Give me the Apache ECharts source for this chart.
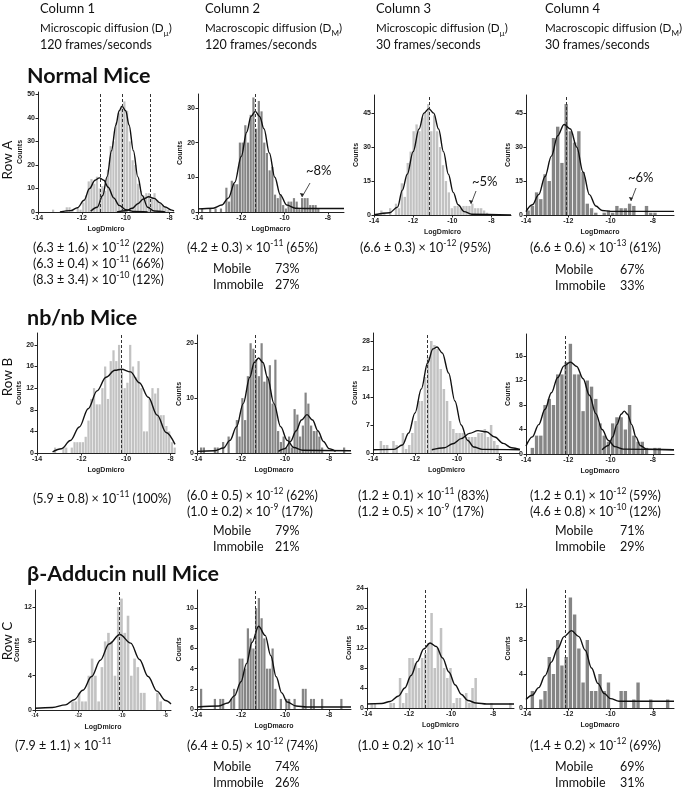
<!DOCTYPE html>
<html><head><meta charset="utf-8">
<script src="https://cdn.jsdelivr.net/npm/echarts@6/dist/echarts.min.js"></script>
<style>html,body{margin:0;padding:0;background:#fff}#c{width:685px;height:790px}</style>
</head><body><div id="c"></div><script>
// ---------- shared tick labels ----------
const xTicks = [-14, -12, -10, -8];

// ---------- Row A : Normal mice ----------
const a1Counts = [0,0,0,0,0,1,0,0,0,0,2,2,1,0,2,1,4,7,13,14,12,15,10,11,9,18,28,30,38,42,45,47,43,30,22,20,12,9,7,8,8,6,8,5,4,3,2,1,0,0];
const a1Fit1 = [[-13,0],[-12.5,0.6],[-12.2,1.8],[-11.9,5],[-11.65,10],[-11.4,13.5],[-11.2,14.5],[-11.0,13.5],[-10.8,10.5],[-10.55,6],[-10.3,2.8],[-10.0,1],[-9.6,0.2],[-9,0]];
const a1Fit2 = [[-11.6,0.3],[-11.3,2],[-11.05,7],[-10.85,15],[-10.65,26],[-10.45,37],[-10.3,43],[-10.17,45],[-10.0,43],[-9.85,37],[-9.65,26],[-9.45,15],[-9.25,7],[-9.0,2],[-8.7,0.4],[-8.2,0]];
const a1Fit3 = [[-10.4,0],[-10.0,0.5],[-9.7,1.6],[-9.45,3.5],[-9.2,5.5],[-8.95,6.5],[-8.7,5.8],[-8.45,4],[-8.2,2.1],[-7.9,0.8],[-7.8,0.5]];
const a1Dashed = [-11.15, -10.17, -8.9];
const a1YTicks = [0,10,20,30,40,50];

const a2Counts = [0,1,0,0,1,0,1,0,1,0,7,3,9,8,8,20,20,25,20,28,33,24,32,29,20,17,12,13,5,4,5,2,1,3,3,4,3,1,4,4,4,2,2,2,1,0,0,0,0,0,0,0,0,0];
const a2Fit1 = [[-14,0.9],[-13.3,1.1],[-12.9,2],[-12.6,4],[-12.3,8.5],[-12.0,16],[-11.75,23],[-11.55,27.5],[-11.35,29],[-11.15,27.5],[-10.95,24],[-10.7,17],[-10.45,10],[-10.2,5],[-9.9,2],[-9.5,1.1],[-9,1],[-7.25,1]];
const a2Dashed = [-11.35];
const a2YTicks = [0,10,20,30];

const a3Counts = [0,0,2,1,0,3,0,5,3,14,8,23,28,37,40,37,43,45,49,37,44,37,30,22,15,10,3,4,4,3,4,4,4,5,3,3,3,2,1,0,0,0,0,0,0,0];
const a3Fit1 = [[-14,0.1],[-13.2,1],[-12.8,3.5],[-12.55,11],[-12.3,18],[-12.0,28],[-11.7,38],[-11.45,45],[-11.2,47],[-10.95,45],[-10.7,38],[-10.45,28],[-10.2,18],[-9.95,10],[-9.7,4.5],[-9.4,1.5],[-9.0,0.3],[-7,0]];
const a3Dashed = [-11.2];
const a3YTicks = [0,15,30,45];

const a4Counts = [2,4,10,7,18,15,34,39,23,49,37,32,37,19,5,3,1,0,1,2,1,4,3,3,5,4,0,0,4,1,1,0,0,0,0];
const a4Fit1 = [[-14,1.5],[-13.7,4.5],[-13.4,9],[-13.1,17],[-12.8,26],[-12.5,35],[-12.2,40],[-11.9,38],[-11.6,30],[-11.3,19],[-11.0,9],[-10.7,4],[-10.4,2],[-10,1.6],[-7,1.6]];
const a4Dashed = [-12.1];
const a4YTicks = [0,15,30,45];

// ---------- Row B : nb/nb mice ----------
const b1Counts = [0,0,0,0,0,0,1,0,0,1,1,0,1,2,2,2,2,3,6,10,12,9,9,12,16,10,17,19,17,20,15,12,13,20,16,14,17,12,4,4,10,12,11,12,7,7,5,4,2,1];
const b1Fit1 = [[-13.3,0.2],[-12.9,0.8],[-12.5,2.3],[-12.1,4.8],[-11.7,8.2],[-11.3,11.5],[-10.9,14],[-10.5,15.3],[-10.2,15.5],[-9.8,15],[-9.4,13],[-9.0,10.3],[-8.6,7],[-8.2,3.8],[-7.8,1.6]];
const b1Dashed = [-10.2];
const b1YTicks = [0,4,8,12,16,20];

const b2Counts = [0,1,1,0,0,0,1,1,0,2,0,3,0,0,6,3,10,6,14,20,19,17,14,20,13,14,16,9,17,4,2,3,1,3,1,8,7,3,5,11,9,5,4,4,3,1,0,0,0,0,0,0,0,1,0,0];
const b2Fit1 = [[-14,0.3],[-13.2,0.4],[-12.8,0.9],[-12.5,2.3],[-12.2,4.8],[-11.9,9],[-11.6,13.8],[-11.4,16.5],[-11.2,17.3],[-11.0,16.5],[-10.8,13.8],[-10.5,9],[-10.2,4.8],[-9.9,2.3],[-9.6,1],[-9.2,0.5],[-7,0.4]];
const b2Fit2 = [[-10.3,0.3],[-10.0,0.8],[-9.75,2.1],[-9.5,4],[-9.25,6],[-9.0,7],[-8.75,6],[-8.5,4],[-8.25,2.1],[-8.0,0.8],[-7.7,0.3]];
const b2Dashed = [-11.33];
const b2YTicks = [0,10,20];

const b3Counts = [0,0,3,2,2,0,3,2,0,5,1,2,5,8,13,13,19,24,28,27,26,21,16,13,8,6,5,5,5,4,4,4,4,5,5,6,4,7,3,2,0,0,0,0,0,0];
const b3Fit1 = [[-14,0.8],[-13,0.9],[-12.6,2],[-12.3,5],[-12.0,10],[-11.7,16],[-11.4,22.5],[-11.15,26],[-10.95,26.5],[-10.7,25],[-10.4,20],[-10.1,13],[-9.8,7],[-9.5,3.2],[-9.2,1.5],[-8.8,0.9],[-7,0.8]];
const b3Fit2 = [[-11.2,0.8],[-10.6,1.3],[-10.2,2.3],[-9.8,3.6],[-9.4,4.9],[-9.0,5.6],[-8.6,5.3],[-8.2,4],[-7.8,2.4],[-7.4,1.3],[-7.0,0.9]];
const b3Dashed = [-11.44];
const b3YTicks = [0,7,14,21,28];

const b4Counts = [0,1,3,3,8,9,8,13,13,15,18,13,13,7,12,11,9,5,3,2,5,6,6,4,8,3,2,2,1,0,1,1,0,0,0];
const b4Fit1 = [[-14,1.3],[-13.7,2.8],[-13.4,4.8],[-13.1,7.3],[-12.8,10],[-12.5,12.5],[-12.2,14.4],[-11.9,15],[-11.6,14.3],[-11.3,12.3],[-11.0,9.6],[-10.7,6.6],[-10.4,4],[-10.1,2.2],[-9.8,1.2],[-9.4,0.8],[-7,0.7]];
const b4Fit2 = [[-10.4,0.7],[-10.1,1.4],[-9.9,2.8],[-9.7,4.8],[-9.5,6.5],[-9.35,7],[-9.2,6.5],[-9.0,4.8],[-8.8,2.8],[-8.6,1.4],[-8.3,0.8],[-7,0.7]];
const b4Dashed = [-12.12];
const b4YTicks = [0,4,8,12,16];

// ---------- Row C : beta-Adducin null mice ----------
const c1Counts = [0,0,0,0,0,0,0,0,0,0,0,1,1,2,1,1,4,6,4,1,5,8,9,8,4,12,13,9,11,4,6,5,2,2,0,0,0,2,1,0,0];
const c1Fit1 = [[-14,0.2],[-13.2,0.3],[-12.6,0.6],[-12.2,1.2],[-11.8,2.3],[-11.4,3.9],[-11.0,5.8],[-10.6,7.7],[-10.1,8.8],[-9.6,7.8],[-9.2,5.9],[-8.8,3.9],[-8.4,2.2],[-8.0,1.1],[-7.75,0.7]];
const c1Dashed = [-10.15];
const c1YTicks = [0,4,8,12];

const c2Counts = [0,2,0,0,0,0,1,0,1,1,0,0,1,2,0,5,5,4,8,7,6,10,11,9,7,4,4,6,2,0,1,0,1,1,0,1,0,0,2,2,0,1,1,0,0,1,0,0,0,0,0,0,1,0,0,0];
const c2Fit1 = [[-14,0.2],[-13,0.3],[-12.6,0.6],[-12.3,1.3],[-12.0,2.7],[-11.75,4.5],[-11.5,6.6],[-11.2,8.2],[-10.9,7.3],[-10.65,5.3],[-10.4,3.2],[-10.15,1.6],[-9.9,0.7],[-9.5,0.3],[-9,0.2],[-7,0.2]];
const c2Dashed = [-11.33];
const c2YTicks = [0,2,4,6,8,10];

const c3Counts = [0,1,1,0,0,0,0,1,1,0,6,1,3,10,10,9,8,10,11,13,19,8,12,16,8,6,8,1,2,2,0,3,1,4,6,0,0,0,0,1,0,0,0,0,0,1,0];
const c3Fit1 = [[-14,0.8],[-13.3,0.9],[-12.9,1.3],[-12.5,2.4],[-12.2,4],[-11.9,6.5],[-11.6,9.3],[-11.3,11.8],[-11.0,13],[-10.7,12.3],[-10.4,10],[-10.1,7.2],[-9.8,4.6],[-9.5,2.7],[-9.2,1.5],[-8.8,1],[-8.3,0.8],[-7,0.8]];
const c3Dashed = [-11.25];
const c3YTicks = [0,4,8,12,16,20,24];

const c4Counts = [0,2,0,1,2,6,4,8,5,6,13,11,7,3,8,2,2,4,2,3,0,0,2,2,0,1,3,0,0,1,0,0,0,1,0];
const c4Fit1 = [[-14,1],[-13.7,1.5],[-13.4,2.4],[-13.1,3.8],[-12.8,5.4],[-12.5,7],[-12.2,8.4],[-11.85,9.1],[-11.5,8.4],[-11.2,6.8],[-10.9,4.7],[-10.6,2.9],[-10.3,1.7],[-10.0,1.1],[-9.6,0.8],[-7,0.8]];
const c4Dashed = [-12.14];
const c4YTicks = [0,4,8,12];

// ---------- texts ----------
const columnTitles = ['Column 1','Column 2','Column 3','Column 4'];
const columnQuantities = ['Microscopic diffusion (D_µ)','Macroscopic diffusion (D_M)','Microscopic diffusion (D_µ)','Macroscopic diffusion (D_M)'];
const columnRates = ['120 frames/seconds','120 frames/seconds','30 frames/seconds','30 frames/seconds'];
const rowTitles = ['Normal Mice','nb/nb Mice','β-Adducin null Mice'];
const rowLabels = ['Row A','Row B','Row C'];
const a1Stats = ['(6.3 ± 1.6) × 10^-12 (22%)','(6.3 ± 0.4) × 10^-11 (66%)','(8.3 ± 3.4) × 10^-10 (12%)'];
const a2Stats = ['(4.2 ± 0.3) × 10^-11 (65%)'];
const a3Stats = ['(6.6 ± 0.3) × 10^-12 (95%)'];
const a4Stats = ['(6.6 ± 0.6) × 10^-13 (61%)'];
const b1Stats = ['(5.9 ± 0.8) × 10^-11 (100%)'];
const b2Stats = ['(6.0 ± 0.5) × 10^-12 (62%)','(1.0 ± 0.2) × 10^-9 (17%)'];
const b3Stats = ['(1.2 ± 0.1) × 10^-11 (83%)','(1.2 ± 0.5) × 10^-9 (17%)'];
const b4Stats = ['(1.2 ± 0.1) × 10^-12 (59%)','(4.6 ± 0.8) × 10^-10 (12%)'];
const c1Stats = ['(7.9 ± 1.1) × 10^-11'];
const c2Stats = ['(6.4 ± 0.5) × 10^-12 (74%)'];
const c3Stats = ['(1.0 ± 0.2) × 10^-11'];
const c4Stats = ['(1.4 ± 0.2) × 10^-12 (69%)'];
const a2Fractions = [['Mobile','73%'],['Immobile','27%']];
const a4Fractions = [['Mobile','67%'],['Immobile','33%']];
const b2Fractions = [['Mobile','79%'],['Immobile','21%']];
const b4Fractions = [['Mobile','71%'],['Immobile','29%']];
const c2Fractions = [['Mobile','74%'],['Immobile','26%']];
const c4Fractions = [['Mobile','69%'],['Immobile','31%']];
const tailLabels = ['~8%','~5%','~6%'];

// ---------- layout / style ----------
const LIGHT = '#c2c2c2', DARK = '#858585';
const panels = [
  {counts:a1Counts, w:0.125, fits:[a1Fit1,a1Fit2,a1Fit3], dashed:a1Dashed, yt:a1YTicks, yMax:51, xMax:-7.8, xName:'LogDmicro', col:LIGHT, g:[38,92,136,120]},
  {counts:a2Counts, w:0.125, fits:[a2Fit1], dashed:a2Dashed, yt:a2YTicks, yMax:34, xMax:-7.25, xName:'LogDmacro', col:DARK, g:[198,94,146,118]},
  {counts:a3Counts, w:0.15, fits:[a3Fit1], dashed:a3Dashed, yt:a3YTicks, yMax:53, xMax:-7, xName:'LogDmicro', col:LIGHT, g:[374,95,137,120]},
  {counts:a4Counts, w:0.2, fits:[a4Fit1], dashed:a4Dashed, yt:a4YTicks, yMax:53, xMax:-7, xName:'LogDmacro', col:DARK, g:[526,95,148,120]},
  {counts:b1Counts, w:0.125, fits:[b1Fit1], dashed:b1Dashed, yt:b1YTicks, yMax:22.2, xMax:-7.8, xName:'LogDmicro', col:LIGHT, g:[37,333,138,120]},
  {counts:b2Counts, w:0.125, fits:[b2Fit1,b2Fit2], dashed:b2Dashed, yt:b2YTicks, yMax:21.5, xMax:-7, xName:'LogDmacro', col:DARK, g:[197,335,154,118]},
  {counts:b3Counts, w:0.15, fits:[b3Fit1,b3Fit2], dashed:b3Dashed, yt:b3YTicks, yMax:30, xMax:-7, xName:'LogDmicro', col:LIGHT, g:[373,333,147,120]},
  {counts:b4Counts, w:0.2, fits:[b4Fit1,b4Fit2], dashed:b4Dashed, yt:b4YTicks, yMax:19.6, xMax:-7, xName:'LogDmacro', col:DARK, g:[526,334,148,120]},
  {counts:c1Counts, w:0.15, fits:[c1Fit1], dashed:c1Dashed, yt:c1YTicks, yMax:14, xMax:-7.75, xName:'LogDmicro', col:LIGHT, g:[35,590,136,120], small:true},
  {counts:c2Counts, w:0.125, fits:[c2Fit1], dashed:c2Dashed, yt:c2YTicks, yMax:11.8, xMax:-7, xName:'LogDmacro', col:DARK, g:[197,590,154,119]},
  {counts:c3Counts, w:0.15, fits:[c3Fit1], dashed:c3Dashed, yt:c3YTicks, yMax:24, xMax:-7, xName:'LogDmicro', col:LIGHT, g:[367,588,147,120]},
  {counts:c4Counts, w:0.2, fits:[c4Fit1], dashed:c4Dashed, yt:c4YTicks, yMax:14, xMax:-7, xName:'LogDmacro', col:DARK, g:[526,589,148,119]}
];

const AX = '#222';
const AXFONT = 'Liberation Sans';
const grids = [], xAxes = [], yAxes = [], series = [];
panels.forEach((p, k) => {
  grids.push({left:p.g[0], top:p.g[1], width:p.g[2], height:p.g[3], containLabel:false});
  xAxes.push({
    type:'value', gridIndex:k, min:-14, max:p.xMax,
    axisLine:{show:true, onZero:false, lineStyle:{color:AX, width:1}},
    axisTick:{show:true, inside:false, length:2.5, customValues:xTicks, lineStyle:{color:AX}},
    axisLabel:{customValues:xTicks, fontSize:p.small?5:7, fontWeight:'bold', color:AX, margin:3, fontFamily:AXFONT},
    splitLine:{show:false},
    name:p.xName, nameLocation:'middle', nameGap:14,
    nameTextStyle:{fontSize:7, fontWeight:'bold', color:AX, fontFamily:AXFONT}
  });
  yAxes.push({
    type:'value', gridIndex:k, min:0, max:p.yMax,
    axisLine:{show:true, lineStyle:{color:AX, width:1}},
    axisTick:{show:true, inside:false, length:2.5, customValues:p.yt, lineStyle:{color:AX}},
    axisLabel:{customValues:p.yt, fontSize:7, fontWeight:'bold', color:AX, margin:3, fontFamily:AXFONT},
    splitLine:{show:false},
    name:'Counts', nameLocation:'middle', nameGap:14,
    nameTextStyle:{fontSize:7, fontWeight:'bold', color:AX, fontFamily:AXFONT}
  });
  series.push({
    type:'bar', xAxisIndex:k, yAxisIndex:k, barWidth:'80%', silent:true,
    data:p.counts.map((c,i)=>[-14 + p.w*(i+0.5), c]),
    itemStyle:{color:p.col},
    markLine:{silent:true, symbol:'none', label:{show:false},
      lineStyle:{type:[3,2], color:'#333', width:1},
      data:p.dashed.map(v=>({xAxis:v}))},
    z:2
  });
  p.fits.forEach(f => series.push({
    type:'line', xAxisIndex:k, yAxisIndex:k, data:f, smooth:0.35, smoothMonotone:'x',
    showSymbol:false, silent:true, lineStyle:{color:'#111', width:1.4}, z:3
  }));
});

// ---------- text graphics ----------
const FONT = 'Lato';
function toRich(s){
  return '{n|' + s.replace(/\^(-?\d+)/g, '}{s|$1}{n|').replace(/_(\S)/g, '}{b|$1}{n|') + '}';
}
function richSet(size){
  return {
    n:{fontSize:size, fontFamily:FONT, fill:'#111', lineHeight:18},
    s:{fontSize:size*0.68, fontFamily:FONT, fill:'#111', verticalAlign:'top', lineHeight:10},
    b:{fontSize:size*0.7, fontFamily:FONT, fill:'#111', verticalAlign:'bottom', lineHeight:10}
  };
}
const RICH_BODY = richSet(12.5), RICH_HEAD = richSet(11.6);
const graphics = [];
function txt(x, y, s, rich){
  graphics.push({type:'text', x:x, y:y, silent:true,
    style:{text:toRich(s), rich:rich||RICH_BODY, verticalAlign:'middle', align:'left'}});
}
function plain(x, y, s, style, rot){
  graphics.push({type:'text', x:x, y:y, rotation:rot||0, silent:true,
    style:Object.assign({text:s, fill:'#111', fontFamily:FONT, verticalAlign:'middle', align:'left'}, style)});
}
const colX = [40, 205, 376, 545];
columnTitles.forEach((t,i)=>{
  plain(colX[i], 9, t, {fontSize:13});
  txt(colX[i], 28, columnQuantities[i], RICH_HEAD);
  plain(colX[i], 45, columnRates[i], {fontSize:12.5});
});
const titleY = [76, 318, 574];
rowTitles.forEach((t,i)=> plain(27, titleY[i], t, {fontSize:21.5, fontWeight:'bold'}));
const rowLabelY = [160, 377, 641];
rowLabels.forEach((t,i)=> plain(8, rowLabelY[i], t, {fontSize:13.5, align:'center'}, Math.PI/2));

function statBlock(x, y0, lines){ lines.forEach((s,i)=> txt(x, y0 + i*16, s)); }
statBlock(33, 248, a1Stats);
statBlock(187, 248, a2Stats);
statBlock(360, 248, a3Stats);
statBlock(530, 248, a4Stats);
statBlock(33, 499, b1Stats);
statBlock(187, 496, b2Stats);
statBlock(358, 496, b3Stats);
statBlock(530, 496, b4Stats);
statBlock(15, 746, c1Stats);
statBlock(187, 746, c2Stats);
statBlock(358, 746, c3Stats);
statBlock(530, 746, c4Stats);

function fracBlock(x1, x2, y0, rows){
  rows.forEach((r,i)=>{ txt(x1, y0 + i*16, r[0]); txt(x2, y0 + i*16, r[1]); });
}
fracBlock(213, 275, 269, a2Fractions);
fracBlock(555, 620, 270, a4Fractions);
fracBlock(213, 275, 531, b2Fractions);
fracBlock(555, 620, 531, b4Fractions);
fracBlock(213, 275, 767, c2Fractions);
fracBlock(555, 620, 767, c4Fractions);

// tail annotations with arrows
const tailPos = [[306,171,[310,183],[302,197]], [472,182,[476,191],[471,204]], [628,178,[636,188],[631,201]]];
tailLabels.forEach((t,i)=>{
  const q = tailPos[i];
  plain(q[0], q[1], t, {fontSize:13});
  graphics.push({type:'line', silent:true, shape:{x1:q[2][0], y1:q[2][1], x2:q[3][0], y2:q[3][1]}, style:{stroke:'#222', lineWidth:0.8}});
  graphics.push({type:'polygon', silent:true, shape:{points:[[q[3][0],q[3][1]],[q[3][0]-2.2,q[3][1]-4],[q[3][0]+1.8,q[3][1]-3.2]]}, style:{fill:'#222'}});
});

const chart = echarts.init(document.getElementById('c'), null, {renderer:'canvas'});
chart.setOption({
  backgroundColor:'#fff', animation:false,
  grid:grids, xAxis:xAxes, yAxis:yAxes, series:series, graphic:graphics
});
</script></body></html>
